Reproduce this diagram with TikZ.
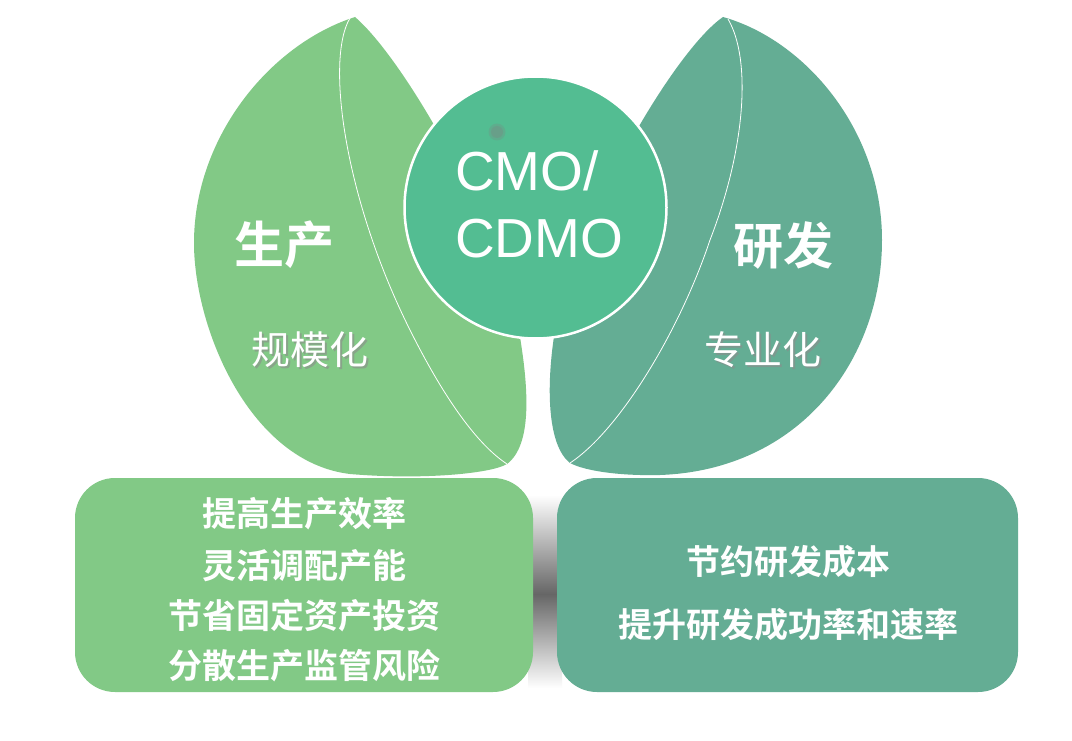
\documentclass[tikz,border=0pt]{standalone}
\usepackage{fontspec}
\setmainfont{Liberation Sans}
\newfontfamily\cjk{Noto Sans CJK SC}
\newfontfamily\cjkb{Noto Sans CJK SC Bold}
\usetikzlibrary{shadings}
\definecolor{leafL}{HTML}{82C986}
\definecolor{leafR}{HTML}{64AD94}
\definecolor{core}{HTML}{53BD92}
\begin{document}
\begin{tikzpicture}[x=1pt,y=-1pt,
  vein/.style={draw=white,line width=0.8pt},
  headtxt/.style={text=white,font=\cjkb\fontsize{50}{56}\selectfont},
  subtxt/.style={text=white,font=\cjk\fontsize{39}{44}\selectfont},
  shadowtxt/.style={text=black!45,opacity=0.6,font=\cjk\fontsize{39}{44}\selectfont},
  boxtxt/.style={text=white,font=\cjkb\fontsize{34}{40}\selectfont},
  cmotxt/.style={text=white,font=\fontsize{55}{60}\selectfont,anchor=base west,inner sep=0pt},
  card/.style={rounded corners=40pt}]
\useasboundingbox (0,0) rectangle (1072,741);
\fill[white] (0,0) rectangle (1072,741);
% shadow band between the cards
\shade[top color=white,bottom color=black!60] (528,495) rectangle (562,594);
\shade[top color=black!60,bottom color=white] (528,594) rectangle (562,688);
% left leaf
\fill[leafL] (355,17) .. controls (268,45) and (193,140) .. (194,245)
  .. controls (195,330) and (250,462) .. (350,474)
  .. controls (420,480) and (490,474) .. (507,464)
  .. controls (532,445) and (530,390) .. (517,320)
  .. controls (495,220) and (405,60) .. (355,17) -- cycle;
\draw[vein] (350,18) .. controls (325,60) and (345,200) .. (410,330)
  .. controls (445,400) and (478,445) .. (507,464);
% right leaf
\fill[leafR] (723,17) .. controls (805,40) and (882,130) .. (882,240)
  .. controls (882,360) and (800,470) .. (660,475)
  .. controls (620,476) and (585,471) .. (570,463)
  .. controls (547,445) and (546,385) .. (555,330)
  .. controls (578,215) and (675,50) .. (723,17) -- cycle;
\draw[vein] (728,19) .. controls (752,60) and (745,150) .. (710,240)
  .. controls (680,330) and (620,430) .. (570,463);
% centre circle
\node[circle,fill=core,draw=white,line width=2.5pt,minimum size=262pt,inner sep=0pt] (core) at (535.5,207.5) {};
\fill[black!50,opacity=0.25] (497,132) circle (8.5);
\fill[black!50,opacity=0.3] (497,132) circle (6);
\node[cmotxt] (cmo) at (455,191) {CMO/};
\node[cmotxt] (cdmo) at (455,258) {CDMO};
% leaf labels
\node[headtxt] (prod) at (284,245) {生产};
\node[shadowtxt] at (311.5,351.5) {规模化};
\node[subtxt] (scale) at (310,350) {规模化};
\node[headtxt] (rd) at (783,245) {研发};
\node[shadowtxt] at (764.5,351.5) {专业化};
\node[subtxt] (spec) at (763,350) {专业化};
% cards
\fill[leafL,card] (75,478) rectangle (533,692);
\fill[leafR,card] (557,478) rectangle (1018,692);
\node[boxtxt] (l1) at (304,514) {提高生产效率};
\node[boxtxt] (l2) at (304,566) {灵活调配产能};
\node[boxtxt] (l3) at (304,616) {节省固定资产投资};
\node[boxtxt] (l4) at (304,666) {分散生产监管风险};
\node[boxtxt] (r1) at (788,562) {节约研发成本};
\node[boxtxt] (r2) at (788,625) {提升研发成功率和速率};
\end{tikzpicture}
\end{document}
